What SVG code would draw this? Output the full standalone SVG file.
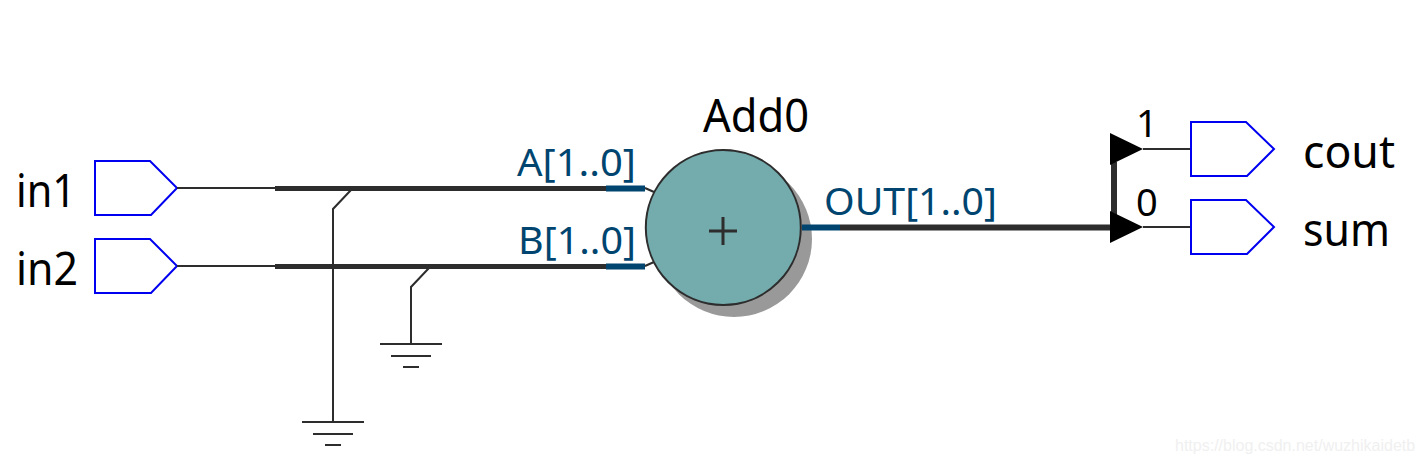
<svg xmlns="http://www.w3.org/2000/svg" width="1423" height="463" viewBox="0 0 1423 463">
<style>
text{font-family:"Noto Sans","DejaVu Sans",sans-serif}
.name{font-size:46px;fill:#000}
.port{font-size:38px;fill:#004570}
.idx{font-size:38px;fill:#000}
.pin{fill:#fff;stroke:#0000f0;stroke-width:2}
.w{fill:none;stroke:#2d2d2d;stroke-width:2}
.bus{fill:none;stroke:#2d2d2d;stroke-width:5}
.pbus{fill:none;stroke:#004570;stroke-width:6}
</style>
<rect width="1423" height="463" fill="#fff"/>
<g id="in1"><polygon class="pin" points="95,161 150,161 177,188 151,215 95,215"/><text class="name" x="16" y="207" textLength="60" lengthAdjust="spacingAndGlyphs">in1</text></g>
<g id="in2"><polygon class="pin" points="95,239 150,239 177,266 151,293 95,293"/><text class="name" x="16" y="285" textLength="62" lengthAdjust="spacingAndGlyphs">in2</text></g>
<g id="add0">
<circle cx="734" cy="239" r="78" fill="#999"/>
<circle cx="723.300" cy="227.500" r="77.500" fill="#74abad" stroke="#2d2d2d" stroke-width="2"/>
<path d="M709 231H737M723 217V245" fill="none" stroke="#2d2d2d" stroke-width="3"/>
<text class="name" x="703" y="132" textLength="106" lengthAdjust="spacingAndGlyphs">Add0</text>
<text class="port" x="517" y="176" textLength="119" lengthAdjust="spacingAndGlyphs">A[1..0]</text>
<text class="port" x="518" y="254" textLength="118" lengthAdjust="spacingAndGlyphs">B[1..0]</text>
<text class="port" x="824" y="215" textLength="173" lengthAdjust="spacingAndGlyphs">OUT[1..0]</text>
</g>
<g id="connectors">
<path class="w" d="M177 188H275M177 266H275"/>
<path class="bus" d="M275 188.500H606M275 266.500H606"/>
<path class="w" d="M351 190L333 209V421M429 268L411 287V343"/>
<path class="w" d="M645 188L654 192M645 266L654 262"/>
<path class="pbus" d="M606 188.500H645M606 266.500H645M802 227.500H840"/>
<path d="M840 227.500H1112" fill="none" stroke="#2d2d2d" stroke-width="6"/>
<path d="M1114 162V215" fill="none" stroke="#2d2d2d" stroke-width="6"/>
<path class="w" d="M1143 149H1191M1143 227H1191"/>
<path class="w" d="M302 422H364M313 434H353M325 445H341M380 344H442M391 356H431M403 367H419"/>
</g>
<g id="split">
<polygon points="1110,133 1143,149 1110,165" fill="#000"/>
<polygon points="1110,211 1143,227 1110,243" fill="#000"/>
<text class="idx" x="1136" y="137">1</text>
<text class="idx" x="1136" y="216">0</text>
</g>
<g id="cout"><polygon class="pin" points="1191,122 1246,122 1274,149 1247,176 1191,176"/><text class="name" x="1303" y="168" textLength="92" lengthAdjust="spacingAndGlyphs">cout</text></g>
<g id="sum"><polygon class="pin" points="1191,200 1246,200 1274,227 1247,254 1191,254"/><text class="name" x="1303" y="246" textLength="87" lengthAdjust="spacingAndGlyphs">sum</text></g>
<text x="1175" y="451" font-size="16" fill="#f0f0f0" style="font-family:'Liberation Sans',sans-serif">https://blog.csdn.net/wuzhikaidetb</text>
</svg>
